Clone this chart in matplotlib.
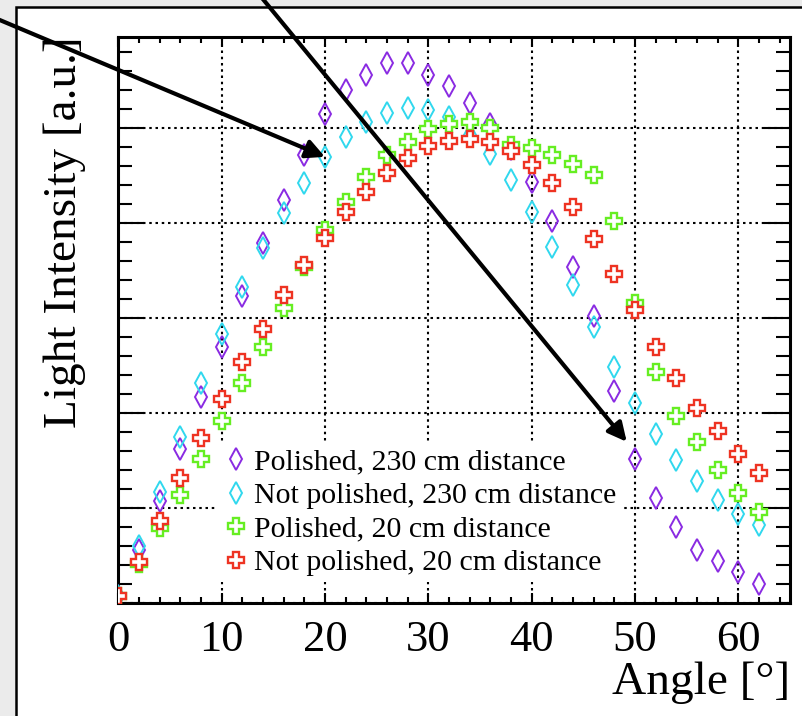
import numpy as np
import matplotlib
matplotlib.use("Agg")
import matplotlib.pyplot as plt
from matplotlib.patches import Rectangle
from matplotlib.ticker import MultipleLocator, NullFormatter

plt.rcParams['font.family'] = ['Liberation Serif', 'DejaVu Serif']

# angles in degrees
angle = np.arange(0, 64, 2)

# light intensity [a.u.]
pol_230 = [0.08, 0.56, 1.08, 1.62, 2.17, 2.70, 3.23, 3.79, 4.25, 4.72, 5.15, 5.40,
           5.56, 5.69, 5.69, 5.56, 5.45, 5.27, 5.05, 4.78, 4.44, 4.02, 3.54, 3.02,
           2.23, 1.52, 1.11, 0.80, 0.56, 0.45, 0.33, 0.20]
notpol_230 = [0.08, 0.60, 1.17, 1.75, 2.32, 2.84, 3.33, 3.74, 4.11, 4.43, 4.70, 4.91,
              5.07, 5.16, 5.21, 5.19, 5.12, 4.93, 4.73, 4.46, 4.12, 3.75, 3.35, 2.91,
              2.49, 2.11, 1.78, 1.51, 1.29, 1.09, 0.94, 0.82]
pol_20 = [0.08, 0.41, 0.79, 1.14, 1.52, 1.92, 2.32, 2.70, 3.11, 3.54, 3.93, 4.23,
          4.49, 4.72, 4.86, 4.99, 5.05, 5.07, 5.00, 4.82, 4.79, 4.72, 4.62, 4.51,
          4.02, 3.16, 2.43, 1.97, 1.70, 1.40, 1.16, 0.96]
notpol_20 = [0.08, 0.43, 0.87, 1.32, 1.74, 2.15, 2.54, 2.89, 3.25, 3.56, 3.85, 4.12,
             4.33, 4.53, 4.69, 4.81, 4.87, 4.89, 4.86, 4.76, 4.61, 4.42, 4.17, 3.84,
             3.47, 3.09, 2.70, 2.37, 2.06, 1.81, 1.57, 1.37]

labels = ["Polished, 230 cm distance", "Not polished, 230 cm distance",
          "Polished, 20 cm distance", "Not polished, 20 cm distance"]

W, H = 802, 716
fig = plt.figure(figsize=(W / 100, H / 100), dpi=100, facecolor="#ebebeb")

# white page with black border
fig.add_artist(Rectangle((16 / W, -0.05), 1.1, (H - 7) / H + 0.05,
                         transform=fig.transFigure, facecolor="white",
                         edgecolor="black", lw=1.8, zorder=0))

ax = fig.add_axes([118.3 / W, (H - 603.3) / H, 671.7 / W, 566.6 / H])
ax.set_facecolor("none")

ax.plot(angle, pol_230, ls="none", marker="d", ms=11, mfc="none", mec="#8a2be2",
        mew=1.4, label=labels[0], zorder=3)
ax.plot(angle, notpol_230, ls="none", marker="d", ms=11, mfc="none", mec="#30d8ee",
        mew=1.4, label=labels[1], zorder=3)
ax.plot(angle, pol_20, ls="none", marker="P", ms=12, mfc="white", mec="#66ee22",
        mew=1.7, label=labels[2], zorder=3)
ax.plot(angle, notpol_20, ls="none", marker="P", ms=12, mfc="white", mec="#ee3322",
        mew=1.7, label=labels[3], zorder=3)

ax.set_xlim(0, 65)
ax.set_ylim(0, 5.965)
ax.xaxis.set_major_locator(MultipleLocator(10))
ax.xaxis.set_minor_locator(MultipleLocator(2))
ax.yaxis.set_major_locator(MultipleLocator(1))
ax.yaxis.set_minor_locator(MultipleLocator(0.2))
ax.yaxis.set_major_formatter(NullFormatter())

ax.grid(True, which="major", color="black", ls=(0, (1.2, 1.8)), lw=1.5, zorder=1)
for s in ax.spines.values():
    s.set_linewidth(2.2)

ax.tick_params(axis="x", which="major", direction="in", top=True, length=7.5,
               width=1.5, labelsize=32, pad=12)
ax.tick_params(axis="x", which="minor", direction="in", top=True, length=4.5, width=1.5)
ax.tick_params(axis="y", which="major", direction="in", right=True, length=19, width=1.5)
ax.tick_params(axis="y", which="minor", direction="in", right=True, length=10, width=1.5)

ax.set_xlabel("Angle [°]", fontsize=34, loc="right", labelpad=1)
ax.set_ylabel("Light Intensity [a.u.]", fontsize=34, loc="top", labelpad=20)

leg = ax.legend(loc="upper left", bbox_to_anchor=(0.148, 0.283), borderaxespad=0,
                fontsize=21.5, frameon=True, fancybox=False, framealpha=1,
                edgecolor="none", handlelength=0.8, handletextpad=0.2,
                labelspacing=0.22, borderpad=0.2)
leg.set_zorder(2)

# arrows pointing at two measured points
ax.annotate("", xy=(angle[10], notpol_230[10]), xycoords="data",
            xytext=(-5, H - 18), textcoords="figure pixels",
            arrowprops=dict(arrowstyle="-|>", lw=3, color="black",
                            mutation_scale=28, shrinkA=0, shrinkB=0),
            annotation_clip=False, zorder=5)
ax.annotate("", xy=(angle[25] - 0.8, pol_230[25] + 0.18), xycoords="data",
            xytext=(262, H + 2), textcoords="figure pixels",
            arrowprops=dict(arrowstyle="-|>", lw=3, color="black",
                            mutation_scale=28, shrinkA=0, shrinkB=0),
            annotation_clip=False, zorder=5)

fig.savefig("out.png", dpi=100, facecolor=fig.get_facecolor())
